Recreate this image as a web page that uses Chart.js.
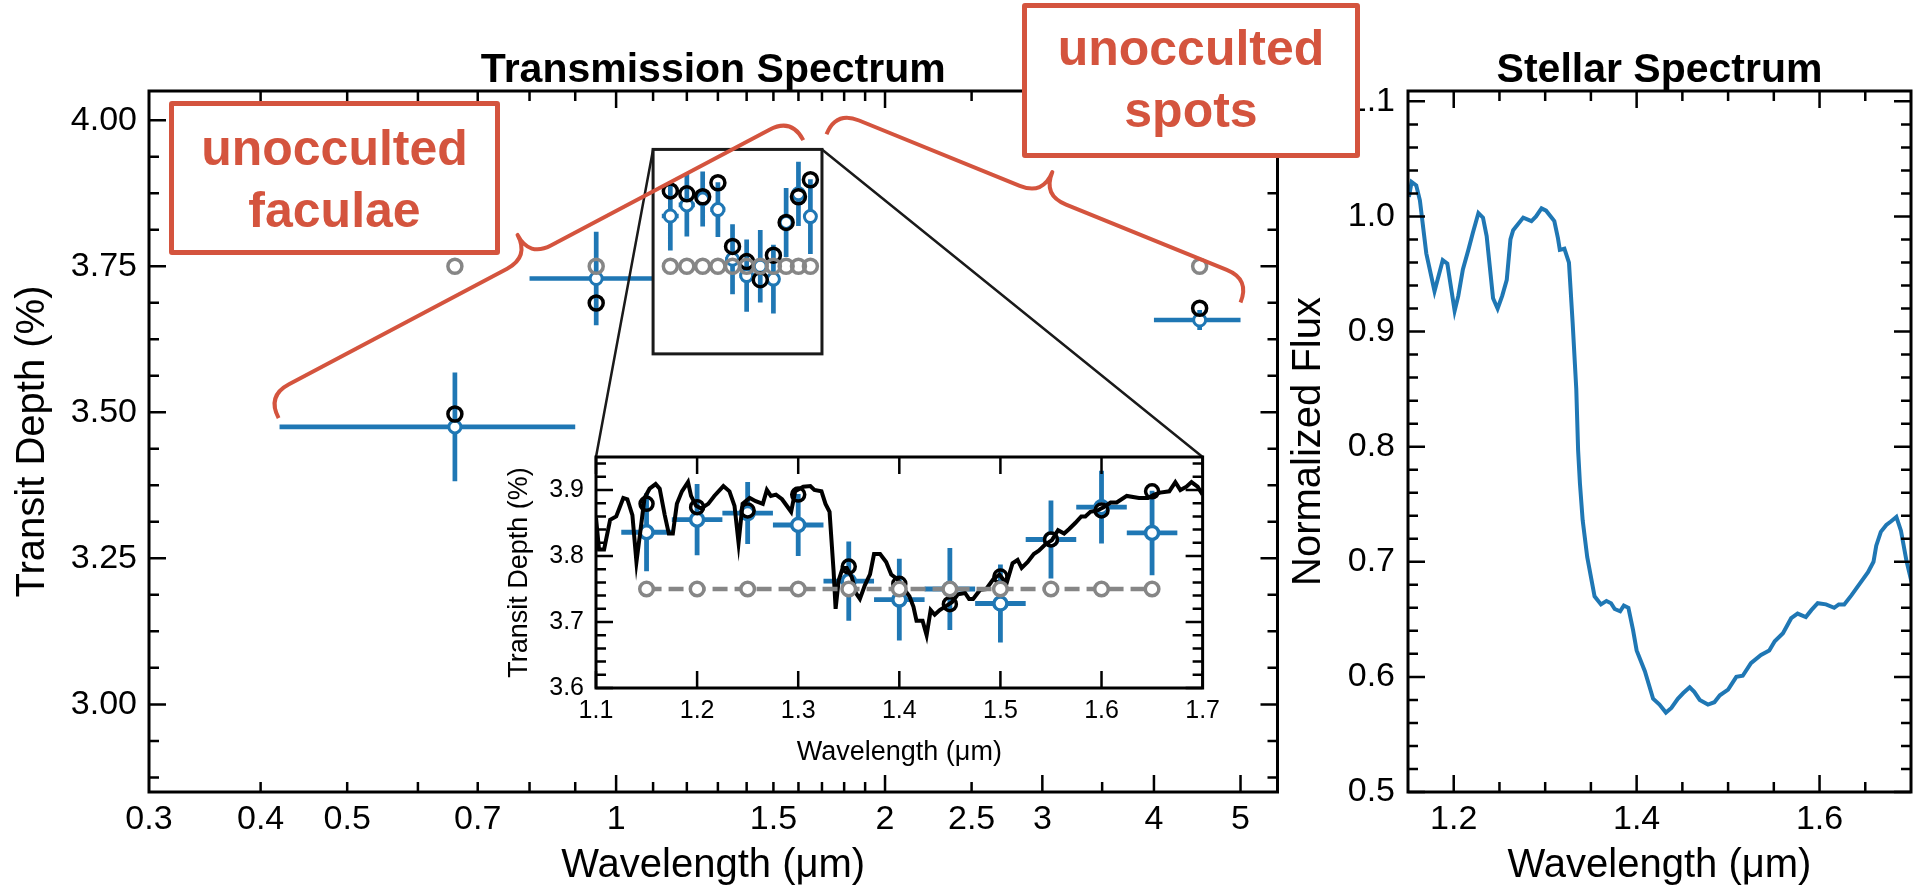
<!DOCTYPE html>
<html>
<head>
<meta charset="utf-8">
<title>Transmission Spectrum / Stellar Spectrum</title>
<script src="https://cdn.jsdelivr.net/npm/chart.js@4.4.1/dist/chart.umd.min.js"></script>
<style>
  html, body { margin: 0; padding: 0; background: #fff; }
  body { position: relative; width: 1915px; height: 891px; overflow: hidden; }
  canvas { position: absolute; }
  #mainChart { left: 0; top: 0; z-index: 1; }
  #insetChart { left: 500px; top: 430px; z-index: 2; }
  #starChart { left: 1288px; top: 0; z-index: 1; }
  .callout {
    position: absolute; z-index: 3; box-sizing: border-box;
    border: 5px solid #d4543e; border-radius: 3px; background: #fff; color: #d4543e;
    font: bold 50px 'Liberation Sans', Arial, sans-serif; line-height: 62px; text-align: center;
  }
  #faculaeBox { left: 169px; top: 101px; width: 331px; height: 154px; padding-top: 11px; }
  #spotsBox { left: 1022px; top: 3px; width: 338px; height: 155px; padding-top: 9px; }
</style>
</head>
<body>
<canvas id="mainChart" width="1288" height="891"></canvas>
<canvas id="insetChart" width="728" height="345"></canvas>
<canvas id="starChart" width="627" height="891"></canvas>
<div class="callout" id="faculaeBox">unocculted<br>faculae</div>
<div class="callout" id="spotsBox">unocculted<br>spots</div>
<script>
// binned transit depths (%)
const binWave = [0.66, 0.95, 1.15, 1.20, 1.25, 1.30, 1.35, 1.40, 1.45, 1.50, 1.55, 1.60, 1.65, 4.50];
const binHalfWidth = [0.24, 0.15, 0.025, 0.025, 0.025, 0.025, 0.025, 0.025, 0.025, 0.025, 0.025, 0.025, 0.025, 0.50];
const observedDepth = [3.475, 3.729, 3.836, 3.855, 3.865, 3.847, 3.762, 3.734, 3.750, 3.728, 3.825, 3.874, 3.835, 3.658];
const observedError = [0.093, 0.080, 0.059, 0.054, 0.047, 0.047, 0.060, 0.062, 0.062, 0.059, 0.059, 0.055, 0.064, 0.017];
const spottedDepth = [3.497, 3.687, 3.879, 3.874, 3.869, 3.893, 3.784, 3.758, 3.727, 3.769, 3.825, 3.869, 3.898, 3.678];
const quietDepth = [3.75, 3.75, 3.75, 3.75, 3.75, 3.75, 3.75, 3.75, 3.75, 3.75, 3.75, 3.75, 3.75, 3.75];

// high resolution model for the inset
const modelWave = [1.100, 1.103, 1.108, 1.114, 1.120, 1.127, 1.131, 1.136, 1.140, 1.144, 1.148, 1.153, 1.159, 1.163, 1.168, 1.172,
  1.176, 1.180, 1.185, 1.191, 1.194, 1.199, 1.204, 1.211, 1.217, 1.226, 1.232, 1.237, 1.241, 1.245, 1.252, 1.258,
  1.265, 1.269, 1.273, 1.278, 1.284, 1.293, 1.297, 1.305, 1.312, 1.316, 1.323, 1.327, 1.331, 1.335, 1.337, 1.340,
  1.344, 1.348, 1.353, 1.357, 1.361, 1.366, 1.371, 1.375, 1.381, 1.387, 1.392, 1.398, 1.404, 1.410, 1.414, 1.417,
  1.423, 1.427, 1.431, 1.435, 1.440, 1.445, 1.452, 1.458, 1.465, 1.469, 1.473, 1.480, 1.486, 1.493, 1.499, 1.506,
  1.512, 1.517, 1.521, 1.527, 1.533, 1.538, 1.544, 1.551, 1.557, 1.563, 1.568, 1.574, 1.580, 1.584, 1.589, 1.596,
  1.602, 1.609, 1.615, 1.625, 1.637, 1.646, 1.652, 1.658, 1.667, 1.673, 1.678, 1.684, 1.689, 1.695, 1.700];
const modelDepth = [3.858, 3.810, 3.810, 3.855, 3.860, 3.888, 3.886, 3.862, 3.791, 3.839, 3.888, 3.902, 3.909, 3.902, 3.862, 3.834,
  3.834, 3.879, 3.898, 3.912, 3.891, 3.876, 3.872, 3.879, 3.891, 3.906, 3.898, 3.876, 3.820, 3.879, 3.888, 3.883,
  3.879, 3.900, 3.891, 3.893, 3.886, 3.867, 3.898, 3.905, 3.906, 3.900, 3.898, 3.879, 3.867, 3.777, 3.720, 3.763,
  3.782, 3.782, 3.768, 3.744, 3.735, 3.756, 3.772, 3.803, 3.803, 3.791, 3.772, 3.765, 3.751, 3.739, 3.723, 3.702,
  3.702, 3.680, 3.718, 3.711, 3.718, 3.723, 3.730, 3.742, 3.744, 3.735, 3.735, 3.749, 3.750, 3.765, 3.772, 3.758,
  3.789, 3.794, 3.782, 3.791, 3.803, 3.808, 3.817, 3.824, 3.839, 3.834, 3.841, 3.850, 3.860, 3.860, 3.867, 3.869,
  3.874, 3.881, 3.881, 3.891, 3.888, 3.888, 3.893, 3.896, 3.898, 3.912, 3.900, 3.905, 3.912, 3.905, 3.893];

// stellar spectrum
const starWave = [1.151, 1.154, 1.159, 1.163, 1.170, 1.179, 1.188, 1.193, 1.201, 1.205, 1.210, 1.216, 1.221, 1.227, 1.232, 1.236,
  1.243, 1.248, 1.253, 1.258, 1.262, 1.265, 1.276, 1.285, 1.290, 1.296, 1.301, 1.310, 1.314, 1.316, 1.321, 1.326,
  1.330, 1.334, 1.336, 1.338, 1.341, 1.346, 1.354, 1.361, 1.367, 1.372, 1.376, 1.382, 1.386, 1.391, 1.396, 1.400,
  1.409, 1.418, 1.425, 1.432, 1.438, 1.445, 1.451, 1.458, 1.463, 1.469, 1.478, 1.485, 1.491, 1.500, 1.509, 1.516,
  1.525, 1.536, 1.545, 1.551, 1.560, 1.569, 1.576, 1.585, 1.591, 1.598, 1.607, 1.616, 1.621, 1.627, 1.635, 1.644,
  1.653, 1.659, 1.662, 1.667, 1.673, 1.678, 1.684, 1.689, 1.695, 1.701];
const starFlux = [1.017, 1.030, 1.027, 1.014, 0.968, 0.935, 0.962, 0.959, 0.918, 0.931, 0.954, 0.971, 0.986, 1.003, 0.999, 0.983,
  0.929, 0.920, 0.931, 0.945, 0.980, 0.988, 0.999, 0.996, 1.000, 1.007, 1.005, 0.996, 0.981, 0.971, 0.972, 0.960,
  0.908, 0.850, 0.797, 0.768, 0.736, 0.704, 0.670, 0.663, 0.666, 0.664, 0.659, 0.657, 0.662, 0.660, 0.641, 0.623,
  0.605, 0.581, 0.576, 0.569, 0.573, 0.581, 0.586, 0.591, 0.587, 0.580, 0.576, 0.578, 0.584, 0.589, 0.600, 0.601,
  0.612, 0.619, 0.623, 0.631, 0.638, 0.651, 0.655, 0.652, 0.658, 0.664, 0.663, 0.660, 0.663, 0.663, 0.671, 0.681,
  0.691, 0.700, 0.714, 0.726, 0.732, 0.735, 0.739, 0.727, 0.701, 0.681];

// tick labels
const mainXTicks = [0.3, 0.4, 0.5, 0.7, 1, 1.5, 2, 2.5, 3, 4, 5];
const mainXMajor = [1, 2, 3, 4, 5];
const mainXMinor = [0.4, 0.5, 0.6, 0.7, 0.8, 0.9, 1.1, 1.2, 1.3, 1.4, 1.5, 1.6, 1.7, 1.8, 1.9, 2.5, 3.5];
const mainYTicks = [3.00, 3.25, 3.50, 3.75, 4.00];
const mainYMinor = [2.875, 2.9375, 3.0625, 3.125, 3.1875, 3.3125, 3.375, 3.4375, 3.5625, 3.625, 3.6875, 3.8125, 3.875, 3.9375];
const insetXTicks = [1.1, 1.2, 1.3, 1.4, 1.5, 1.6, 1.7];
const insetYTicks = [3.6, 3.7, 3.8, 3.9];
const starXTicks = [1.2, 1.4, 1.6];
const starXMinor = [1.25, 1.3, 1.35, 1.45, 1.5, 1.55, 1.65];
const starYTicks = [0.5, 0.6, 0.7, 0.8, 0.9, 1.0, 1.1];

// annotations, in data units of the main panel
const zoomWindow = { xMin: 1.1, xMax: 1.7, yMin: 3.6, yMax: 3.95 };
const faculaeBrace = { from: [0.419, 3.49], to: [1.62, 3.966] };
const spotsBrace = { from: [1.72, 3.976], to: [5.0, 3.688] };

const BLUE = '#1f77b4', GRAY = '#868686', RED = '#d4543e';
const FONT = "'Liberation Sans', Arial, Helvetica, sans-serif";
Chart.defaults.font.family = FONT;
Chart.defaults.color = '#000';

// minor ticks between majors, skipping every n-th one
function minorTicks(start, count, step, every) {
  const out = [];
  for (let i = 1; i < count; i++) if (i % every !== 0) out.push(+(start + i * step).toFixed(4));
  return out;
}

const pts = (xs, ys) => xs.map((x, i) => ({ x: x, y: ys[i] }));

// ticks drawn inward on all four sides + frame
const frameTicks = {
  id: 'frameTicks',
  afterDraw(chart, args, o) {
    const { ctx, chartArea: a, scales: { x, y } } = chart;
    ctx.save();
    ctx.strokeStyle = '#000';
    ctx.lineWidth = 2.5;
    ctx.beginPath();
    const xMark = (v, len) => {
      const p = x.getPixelForValue(v);
      ctx.moveTo(p, a.bottom); ctx.lineTo(p, a.bottom - len);
      ctx.moveTo(p, a.top); ctx.lineTo(p, a.top + len);
    };
    const yMark = (v, len) => {
      const p = y.getPixelForValue(v);
      ctx.moveTo(a.left, p); ctx.lineTo(a.left + len, p);
      ctx.moveTo(a.right, p); ctx.lineTo(a.right - len, p);
    };
    (o.xMajor || []).forEach(v => xMark(v, o.major));
    (o.xMinor || []).forEach(v => xMark(v, o.minor));
    (o.yMajor || []).forEach(v => yMark(v, o.major));
    (o.yMinor || []).forEach(v => yMark(v, o.minor));
    ctx.stroke();
    ctx.lineWidth = 3;
    ctx.strokeRect(a.left, a.top, a.right - a.left, a.bottom - a.top);
    ctx.restore();
  }
};

// error bars under the markers of a dataset that carries them
const errorBars = {
  id: 'errorBars',
  beforeDatasetDraw(chart, args, o) {
    const ds = chart.data.datasets[args.index];
    if (!ds.errors) return;
    const { ctx, scales: { x, y } } = chart;
    ctx.save();
    ctx.strokeStyle = ds.borderColor;
    ctx.lineWidth = o.width || 4.7;
    ctx.beginPath();
    ds.data.forEach((p, i) => {
      const e = ds.errors[i];
      const px = x.getPixelForValue(p.x), py = y.getPixelForValue(p.y);
      ctx.moveTo(x.getPixelForValue(p.x - e.x), py);
      ctx.lineTo(x.getPixelForValue(p.x + e.x), py);
      ctx.moveTo(px, y.getPixelForValue(p.y - e.y));
      ctx.lineTo(px, y.getPixelForValue(p.y + e.y));
    });
    ctx.stroke();
    ctx.restore();
  }
};

const panelTitle = {
  id: 'panelTitle',
  afterDraw(chart, args, o) {
    const { ctx, chartArea: a } = chart;
    ctx.save();
    ctx.font = 'bold 41px ' + FONT;
    ctx.fillStyle = '#000';
    ctx.textAlign = 'center';
    ctx.textBaseline = 'alphabetic';
    ctx.fillText(o.text, (a.left + a.right) / 2, a.top - 9);
    ctx.restore();
  }
};

function fixedAxis(values, fmt, size, pad, title, titleSize, titlePad, fit) {
  return {
    grid: { display: false, drawTicks: false },
    border: { display: false },
    afterBuildTicks: (s) => { s.ticks = values.map(v => ({ value: v })); },
    afterFit: fit,
    ticks: { autoSkip: false, maxRotation: 0, minRotation: 0, padding: pad, font: { size: size }, callback: fmt },
    title: { display: true, text: title, font: { size: titleSize, lineHeight: 1 }, padding: titlePad }
  };
}

function errorList(idx) {
  return idx.map(i => ({ x: binHalfWidth[i], y: observedError[i] }));
}

const allIdx = binWave.map((_, i) => i);
const insetIdx = allIdx.filter(i => binWave[i] > zoomWindow.xMin && binWave[i] < zoomWindow.xMax);
const pick = (arr, idx) => idx.map(i => arr[i]);

// ---- inset ----
const insetChart = new Chart(document.getElementById('insetChart'), {
  type: 'scatter',
  data: {
    datasets: [
      {
        data: pts(pick(binWave, insetIdx), pick(quietDepth, insetIdx)),
        showLine: true, borderColor: GRAY, borderWidth: 4.5, borderDash: [15, 7],
        pointRadius: 6.8, pointBorderWidth: 3.5, pointBackgroundColor: '#fff', pointBorderColor: GRAY
      },
      {
        data: pts(modelWave, modelDepth),
        showLine: true, borderColor: '#000', borderWidth: 4, pointRadius: 0
      },
      {
        data: pts(pick(binWave, insetIdx), pick(spottedDepth, insetIdx)),
        pointRadius: 6.5, pointBorderWidth: 3.5, pointBackgroundColor: 'rgba(0,0,0,0)', pointBorderColor: '#000'
      },
      {
        data: pts(pick(binWave, insetIdx), pick(observedDepth, insetIdx)),
        errors: errorList(insetIdx),
        borderColor: BLUE, pointRadius: 6.5, pointBorderWidth: 3.5, pointBackgroundColor: '#fff', pointBorderColor: BLUE
      }
    ]
  },
  options: {
    responsive: false, animation: false, events: [],
    layout: { padding: { top: 10, right: 10, left: 0, bottom: 0 } },
    plugins: {
      legend: { display: false }, tooltip: { enabled: false },
      errorBars: { width: 4.8 },
      frameTicks: { xMajor: insetXTicks, yMajor: insetYTicks, yMinor: minorTicks(3.6, 18, 0.02, 5), major: 17, minor: 10 }
    },
    scales: {
      x: Object.assign(fixedAxis(insetXTicks, v => v.toFixed(1), 25, 8, 'Wavelength (μm)', 27, { top: 0, bottom: 9 },
        s => { s.height = 87; }), { type: 'linear', min: 1.1, max: 1.7 }),
      y: Object.assign(fixedAxis(insetYTicks, v => v.toFixed(1), 25, 12, 'Transit Depth (%)', 27, { top: 6, bottom: 0 },
        s => { s.width = 96; }), { type: 'linear', min: 3.6, max: 3.95 })
    }
  },
  plugins: [{
    id: 'whiteArea',
    beforeDraw(chart) {
      const { ctx, chartArea: a } = chart;
      ctx.save(); ctx.fillStyle = '#fff';
      ctx.fillRect(a.left, a.top, a.right - a.left, a.bottom - a.top);
      ctx.restore();
    }
  }, errorBars, frameTicks]
});

// ---- zoom window, connectors and braces on the main panel ----
function drawBrace(ctx, p1, p2, r) {
  const dx = p2.x - p1.x, dy = p2.y - p1.y, len = Math.hypot(dx, dy);
  const ux = dx / len, uy = dy / len, nx = uy, ny = -ux;
  const mx = (p1.x + p2.x) / 2, my = (p1.y + p2.y) / 2;
  const at = (bx, by, a, b) => [bx + ux * a + nx * b, by + uy * a + ny * b];
  ctx.beginPath();
  ctx.moveTo(p1.x, p1.y);
  let c = at(p1.x, p1.y, 0, r), e = at(p1.x, p1.y, r, r);
  ctx.quadraticCurveTo(c[0], c[1], e[0], e[1]);
  e = at(mx, my, -r, r); ctx.lineTo(e[0], e[1]);
  c = at(mx, my, 0, r); e = at(mx, my, 0, 2 * r);
  ctx.quadraticCurveTo(c[0], c[1], e[0], e[1]);
  e = at(mx, my, r, r);
  ctx.quadraticCurveTo(c[0], c[1], e[0], e[1]);
  e = at(p2.x, p2.y, -r, r); ctx.lineTo(e[0], e[1]);
  c = at(p2.x, p2.y, 0, r);
  ctx.quadraticCurveTo(c[0], c[1], p2.x, p2.y);
  ctx.stroke();
}

const annotations = {
  id: 'annotations',
  afterDatasetsDraw(chart) {
    const { ctx, scales: { x, y } } = chart;
    const px = (v) => x.getPixelForValue(v), py = (v) => y.getPixelForValue(v);
    const c = insetChart.canvas, ia = insetChart.chartArea;
    ctx.save();
    ctx.strokeStyle = '#1a1a1a';
    ctx.lineWidth = 3;
    const l = px(zoomWindow.xMin), r = px(zoomWindow.xMax), t = py(zoomWindow.yMax), b = py(zoomWindow.yMin);
    ctx.strokeRect(l, t, r - l, b - t);
    ctx.lineWidth = 2.5;
    ctx.beginPath();
    ctx.moveTo(l, t); ctx.lineTo(c.offsetLeft + ia.left, c.offsetTop + ia.top);
    ctx.moveTo(r, t); ctx.lineTo(c.offsetLeft + ia.right, c.offsetTop + ia.top);
    ctx.stroke();
    ctx.strokeStyle = RED;
    ctx.lineWidth = 4;
    ctx.lineJoin = 'round';
    [faculaeBrace, spotsBrace].forEach(br => {
      drawBrace(ctx, { x: px(br.from[0]), y: py(br.from[1]) }, { x: px(br.to[0]), y: py(br.to[1]) }, 25);
    });
    ctx.restore();
  }
};

// ---- main panel ----
new Chart(document.getElementById('mainChart'), {
  type: 'scatter',
  data: {
    datasets: [
      {
        data: pts(binWave, quietDepth),
        pointRadius: 7, pointBorderWidth: 3.5, pointBackgroundColor: 'rgba(0,0,0,0)', pointBorderColor: GRAY
      },
      {
        data: pts(binWave, spottedDepth),
        pointRadius: 7, pointBorderWidth: 3.5, pointBackgroundColor: 'rgba(0,0,0,0)', pointBorderColor: '#000'
      },
      {
        data: pts(binWave, observedDepth),
        errors: errorList(allIdx),
        borderColor: BLUE, pointRadius: 6, pointBorderWidth: 3, pointBackgroundColor: '#fff', pointBorderColor: BLUE
      }
    ]
  },
  options: {
    responsive: false, animation: false, events: [],
    layout: { padding: { top: 91, right: 6, left: 0, bottom: 0 } },
    plugins: {
      legend: { display: false }, tooltip: { enabled: false },
      errorBars: { width: 4.7 },
      panelTitle: { text: 'Transmission Spectrum' },
      frameTicks: { xMajor: mainXMajor, xMinor: mainXMinor, yMajor: mainYTicks, yMinor: mainYMinor, major: 17, minor: 10 }
    },
    scales: {
      x: Object.assign(fixedAxis(mainXTicks, v => String(v), 34, 7, 'Wavelength (μm)', 40, { top: 0, bottom: 5 },
        s => { s.height = 99; }), { type: 'logarithmic', min: 0.3, max: 5.5 }),
      y: Object.assign(fixedAxis(mainYTicks, v => v.toFixed(2), 34, 12, 'Transit Depth (%)', 40, { top: 13, bottom: 0 },
        s => { s.width = 149; }), { type: 'linear', min: 2.85, max: 4.05 })
    }
  },
  plugins: [annotations, errorBars, frameTicks, panelTitle]
});

// ---- stellar spectrum ----
new Chart(document.getElementById('starChart'), {
  type: 'scatter',
  data: {
    datasets: [{
      data: pts(starWave, starFlux),
      showLine: true, borderColor: BLUE, borderWidth: 4, pointRadius: 0
    }]
  },
  options: {
    responsive: false, animation: false, events: [],
    layout: { padding: { top: 91, right: 4, left: 0, bottom: 0 } },
    plugins: {
      legend: { display: false }, tooltip: { enabled: false },
      panelTitle: { text: 'Stellar Spectrum' },
      frameTicks: { xMajor: starXTicks, xMinor: starXMinor, yMajor: starYTicks, yMinor: minorTicks(0.5, 31, 0.02, 5), major: 17, minor: 10 }
    },
    scales: {
      x: Object.assign(fixedAxis(starXTicks, v => v.toFixed(1), 34, 7, 'Wavelength (μm)', 40, { top: 0, bottom: 5 },
        s => { s.height = 99; }), { type: 'linear', min: 1.15, max: 1.70 }),
      y: Object.assign(fixedAxis(starYTicks, v => v.toFixed(1), 34, 13, 'Normalized Flux', 40, { top: 1, bottom: 0 },
        s => { s.width = 120; }), { type: 'linear', min: 0.5, max: 1.109 })
    }
  },
  plugins: [frameTicks, panelTitle]
});
</script>
</body>
</html>
